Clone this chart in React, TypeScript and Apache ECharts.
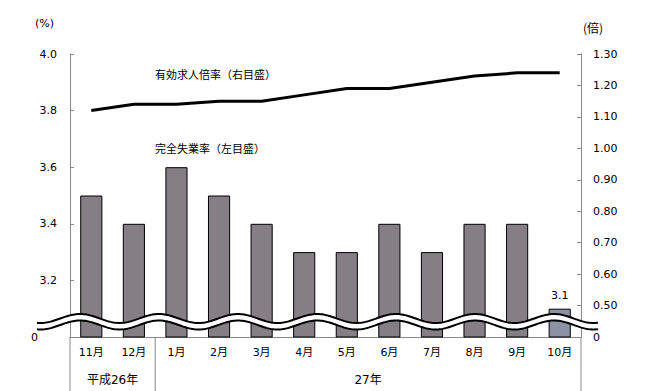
import React, { useEffect, useRef } from "react";
import * as echarts from "echarts";

const categories = ["11月", "12月", "1月", "2月", "3月", "4月", "5月", "6月", "7月", "8月", "9月", "10月"];
const unemployment = [3.5, 3.4, 3.6, 3.5, 3.4, 3.3, 3.3, 3.4, 3.3, 3.4, 3.4, 3.1];
const jobRatio = [1.12, 1.14, 1.14, 1.15, 1.15, 1.17, 1.19, 1.19, 1.21, 1.23, 1.24, 1.24];
const yearGroups = [
  { label: "平成26年", from: 0, to: 1 },
  { label: "27年", from: 2, to: 11 },
];
const leftAxis = { min: 3.0, max: 4.0, interval: 0.2 };
const rightAxis = { min: 0.4, max: 1.3, interval: 0.1 };

const NUM_FONT = "'DejaVu Sans', 'Noto Sans CJK JP', sans-serif";
const JP_FONT = "'Noto Sans CJK JP', sans-serif";

export default function App() {
  const ref = useRef<HTMLDivElement>(null);
  useEffect(() => {
    if (!ref.current) return;
    const chart = echarts.init(ref.current, undefined, { renderer: "svg" });
    const last = categories.length - 1;

    chart.setOption({
      animation: false,
      backgroundColor: "#ffffff",
      grid: { left: 70, right: 67, top: 54, bottom: 54, containLabel: false },
      xAxis: {
        type: "category",
        data: categories,
        boundaryGap: true,
        axisLine: { show: true, lineStyle: { color: "#888888", width: 1 } },
        axisTick: { show: false },
        axisLabel: { margin: 10, color: "#000", fontSize: 11, fontFamily: NUM_FONT },
      },
      yAxis: [
        {
          type: "value",
          min: leftAxis.min,
          max: leftAxis.max,
          interval: leftAxis.interval,
          position: "left",
          splitLine: { show: false },
          axisLine: { show: true, lineStyle: { color: "#888888" } },
          axisTick: { show: true, inside: true, length: 4, lineStyle: { color: "#888888" } },
          axisLabel: {
            margin: 13,
            color: "#000",
            fontSize: 11,
            fontFamily: NUM_FONT,
            formatter: (v: number) => (Math.abs(v - leftAxis.min) < 1e-9 ? "{z|0}" : v.toFixed(1)),
            rich: { z: { padding: [0, 19, 0, 0], fontSize: 11, fontFamily: NUM_FONT, color: "#000" } },
          },
        },
        {
          type: "value",
          min: rightAxis.min,
          max: rightAxis.max,
          interval: rightAxis.interval,
          position: "right",
          splitLine: { show: false },
          axisLine: { show: true, lineStyle: { color: "#888888" } },
          axisTick: { show: true, inside: true, length: 4, lineStyle: { color: "#888888" } },
          axisLabel: {
            margin: 12,
            color: "#000",
            fontSize: 11,
            fontFamily: NUM_FONT,
            formatter: (v: number) => (Math.abs(v - rightAxis.min) < 1e-9 ? "0" : v.toFixed(2)),
          },
        },
      ],
      series: [
        {
          type: "bar",
          yAxisIndex: 0,
          barWidth: "52%",
          data: unemployment.map((v, i) =>
            i === last
              ? {
                  value: v,
                  itemStyle: { color: "#8a92a4" },
                  label: { show: true, position: "top", distance: 8, color: "#000", fontSize: 11, fontFamily: NUM_FONT, formatter: (p: any) => p.value.toFixed(1) },
                }
              : v
          ),
          itemStyle: { color: "#857f85", borderColor: "#000", borderWidth: 1 },
          z: 2,
        },
        {
          type: "line",
          yAxisIndex: 1,
          data: jobRatio.map((v, i) =>
            i === last
              ? {
                  value: v,
                  label: { show: true, position: "top", distance: 8, color: "#000", fontSize: 11, fontFamily: NUM_FONT, formatter: (p: any) => p.value.toFixed(2) },
                }
              : v
          ),
          showSymbol: false,
          symbol: "none",
          lineStyle: { color: "#000", width: 3 },
          z: 3,
        },
      ],
    });

    const px = (i: number) => chart.convertToPixel({ xAxisIndex: 0 }, i) as number;
    const step = px(1) - px(0);
    const gridLeft = px(0) - step / 2;
    const gridRight = px(last) + step / 2;
    const yBase = chart.convertToPixel({ yAxisIndex: 0 }, leftAxis.min) as number;
    const yTop = chart.convertToPixel({ yAxisIndex: 0 }, leftAxis.max) as number;
    const H = 391;

    const upperC = yBase - 18.5;
    const gap = 6.5;
    const amp = 4.5;
    const period = 79;
    const phase = gridLeft + 10;
    const upper: number[][] = [];
    const lower: number[][] = [];
    for (let x = 37; x <= 598; x += 1.5) {
      const y = upperC - amp * Math.cos((2 * Math.PI * (x - phase)) / period);
      upper.push([x, y]);
      lower.push([x, y + gap]);
    }
    const band = upper.concat(lower.slice().reverse());

    const sepX = (px(1) + px(2)) / 2;
    const graphics: any[] = [
      { type: "polygon", shape: { points: band }, style: { fill: "#ffffff" }, z: 20 },
      { type: "polyline", shape: { points: upper }, style: { stroke: "#000", lineWidth: 2, fill: null }, z: 21 },
      { type: "polyline", shape: { points: lower }, style: { stroke: "#000", lineWidth: 2, fill: null }, z: 21 },
      { type: "line", shape: { x1: gridLeft, y1: yBase, x2: gridLeft, y2: H }, style: { stroke: "#888888", lineWidth: 1 }, z: 5 },
      { type: "line", shape: { x1: sepX, y1: yBase, x2: sepX, y2: H }, style: { stroke: "#888888", lineWidth: 1 }, z: 5 },
      { type: "line", shape: { x1: gridRight, y1: yBase, x2: gridRight, y2: H }, style: { stroke: "#888888", lineWidth: 1 }, z: 5 },
      { type: "text", left: 35, top: yTop - 36, style: { text: "(%)", fontSize: 11, fontFamily: NUM_FONT, fill: "#000" }, z: 30 },
      { type: "text", left: gridRight + 2, top: yTop - 33, style: { text: "(倍)", fontSize: 12, fontFamily: JP_FONT, fill: "#000" }, z: 30 },
      { type: "text", left: 155, top: 68, style: { text: "有効求人倍率（右目盛）", fontSize: 11, fontFamily: JP_FONT, fill: "#000" }, z: 30 },
      { type: "text", left: 155, top: 142, style: { text: "完全失業率（左目盛）", fontSize: 11, fontFamily: JP_FONT, fill: "#000" }, z: 30 },
    ];
    yearGroups.forEach((g) => {
      const a = px(g.from) - step / 2;
      const b = px(g.to) + step / 2;
      graphics.push({
        type: "text",
        x: (a + b) / 2,
        y: 380,
        style: { text: g.label, fontSize: 12, fontFamily: NUM_FONT, fill: "#000", align: "center", verticalAlign: "middle" },
        z: 30,
      });
    });
    chart.setOption({ graphic: graphics });

    return () => chart.dispose();
  }, []);
  return <div ref={ref} style={{ position: "fixed", left: 0, top: 0, width: 648, height: 391 }} />;
}
